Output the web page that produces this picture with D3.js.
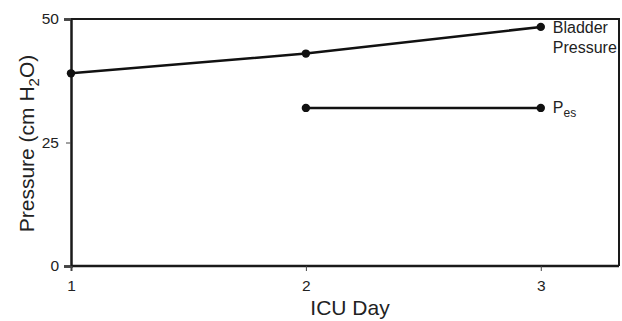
<!DOCTYPE html>
<html lang="en">
<head>
    <meta charset="UTF-8">
    <title>ICU Day pressure</title>
    <script src="https://d3js.org/d3.v7.min.js"></script>
    <style>
        body { margin: 0; background: #fff; }
        text { font-family: "Liberation Sans", Arial, sans-serif; fill: #222; }
    </style>
</head>
<body>
    <script>
        var days = [1, 2, 3];
        var bladder = [39, 43, 48.4];
        var pesDays = [2, 3];
        var pes = [32, 32];
        var yTicks = [0, 25, 50];

        var width = 622, height = 321;
        var margin = { top: 19, right: 3, bottom: 55, left: 71 };

        var svg = d3.select("body").append("svg")
            .attr("width", width)
            .attr("height", height);

        var x = d3.scaleLinear().domain([1, 3.333]).range([margin.left, width - margin.right]);
        var y = d3.scaleLinear().domain([0, 50]).range([height - margin.bottom, margin.top]);

        // frame (top + right)
        svg.append("path")
            .attr("d", "M" + x(1) + "," + y(50) + "H" + x(3.333) + "V" + y(0))
            .attr("fill", "none")
            .attr("stroke", "#1a1a1a")
            .attr("stroke-width", 2);

        var yAxis = svg.append("g")
            .attr("transform", "translate(" + margin.left + ",0)")
            .call(d3.axisLeft(y).tickValues(yTicks).tickSize(7).tickPadding(5));
        yAxis.select(".domain").attr("stroke-width", 2.5).attr("stroke", "#1a1a1a");
        yAxis.selectAll(".tick line").attr("stroke", "#444")
            .attr("stroke-width", function (d) { return d === 25 ? 1 : 2; })
            .attr("x2", function (d) { return d === 25 ? -5 : -7; });
        yAxis.selectAll(".tick text").style("font-size", "15.5px").attr("fill", "#333");

        var xAxis = svg.append("g")
            .attr("transform", "translate(0," + y(0) + ")")
            .call(d3.axisBottom(x).tickValues(days).tickFormat(d3.format("d")).tickSize(5).tickPadding(9));
        xAxis.select(".domain").attr("stroke-width", 2.5).attr("stroke", "#1a1a1a")
            .attr("d", "M" + x(1) + ",0H" + x(3.333));
        xAxis.selectAll(".tick line").attr("stroke", "#444")
            .attr("stroke-width", function (d) { return d === 1 ? 2 : 1; });
        xAxis.selectAll(".tick text").style("font-size", "15.5px").attr("fill", "#333");

        var line = d3.line().x(function (d) { return x(d[0]); }).y(function (d) { return y(d[1]); });

        var series = [
            d3.zip(days, bladder),
            d3.zip(pesDays, pes)
        ];

        series.forEach(function (s) {
            svg.append("path")
                .datum(s)
                .attr("d", line)
                .attr("fill", "none")
                .attr("stroke", "#111")
                .attr("stroke-width", 2.5);
            svg.selectAll(null)
                .data(s)
                .enter().append("circle")
                .attr("cx", function (d) { return x(d[0]); })
                .attr("cy", function (d) { return y(d[1]); })
                .attr("r", 4.2)
                .attr("fill", "#111");
        });

        // series labels
        var lx = x(3) + 12;
        svg.append("text").attr("x", lx).attr("y", y(48.4) + 6)
            .style("font-size", "16px").text("Bladder");
        svg.append("text").attr("x", lx).attr("y", y(48.4) + 26)
            .style("font-size", "16px").text("Pressure");
        var pt = svg.append("text").attr("x", lx).attr("y", y(32) + 5)
            .style("font-size", "16px");
        pt.append("tspan").text("P");
        pt.append("tspan").attr("dy", 4).style("font-size", "12px").text("es");

        // axis titles
        svg.append("text")
            .attr("x", 350)
            .attr("y", 315)
            .attr("text-anchor", "middle")
            .style("font-size", "21px")
            .text("ICU Day");

        var yt = svg.append("text")
            .attr("transform", "translate(34," + (y(25) + 1) + ") rotate(-90)")
            .attr("text-anchor", "middle")
            .style("font-size", "21px");
        yt.append("tspan").text("Pressure (cm H");
        yt.append("tspan").attr("dy", 5).style("font-size", "15px").text("2");
        yt.append("tspan").attr("dy", -5).text("O)");
    </script>
</body>
</html>
